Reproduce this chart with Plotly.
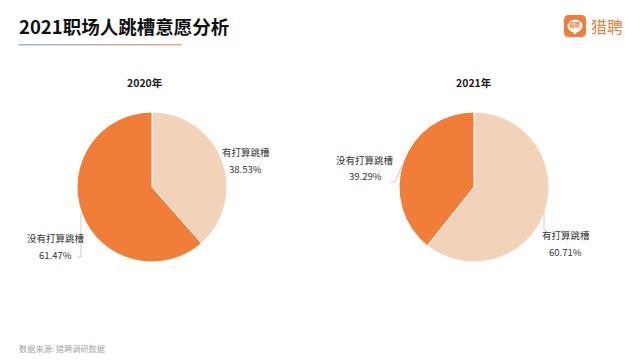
import plotly.graph_objects as go

W, H = 625, 361
FONT = "Noto Sans CJK SC"

title_text = "2021职场人跳槽意愿分析"
source_text = "数据来源: 猎聘调研数据"
brand_text = "猎聘"
labels = ["有打算跳槽", "没有打算跳槽"]
years = ["2020年", "2021年"]
values_2020 = [38.53, 61.47]
values_2021 = [60.71, 39.29]
colors = ["#F3D2BA", "#F07D38"]


def px(x):
    return x / W


def py(y):
    return 1 - y / H


def note(text, x, y, size=9.5, color="#333333", bold=False, anchor="center"):
    return dict(
        text=f"<b>{text}</b>" if bold else text,
        x=px(x), y=py(y), xref="paper", yref="paper",
        xanchor=anchor, yanchor="middle", showarrow=False,
        font=dict(family=FONT, size=size, color=color),
    )


def seg(x0, y0, x1, y1, color="#BFBFBF", width=0.8):
    return dict(
        type="line", xref="paper", yref="paper",
        x0=px(x0), y0=py(y0), x1=px(x1), y1=py(y1),
        line=dict(color=color, width=width),
    )


def rounded(x0, y0, x1, y1, r, color):
    pts = [
        f"M{px(x0 + r)},{py(y0)}", f"L{px(x1 - r)},{py(y0)}",
        f"Q{px(x1)},{py(y0)} {px(x1)},{py(y0 + r)}", f"L{px(x1)},{py(y1 - r)}",
        f"Q{px(x1)},{py(y1)} {px(x1 - r)},{py(y1)}", f"L{px(x0 + r)},{py(y1)}",
        f"Q{px(x0)},{py(y1)} {px(x0)},{py(y1 - r)}", f"L{px(x0)},{py(y0 + r)}",
        f"Q{px(x0)},{py(y0)} {px(x0 + r)},{py(y0)}", "Z",
    ]
    return dict(type="path", xref="paper", yref="paper", path=" ".join(pts),
                fillcolor=color, line=dict(width=0))


def pie(values, left):
    return go.Pie(
        labels=labels, values=values, sort=False, direction="clockwise", rotation=0,
        marker=dict(colors=colors, line=dict(color="#FFFFFF", width=1)),
        textinfo="none", showlegend=False, hoverinfo="label+percent",
        domain=dict(x=[px(left), px(left + 150)], y=[py(262), py(112)]),
    )


fig = go.Figure([pie(values_2020, 77), pie(values_2021, 399)])

# gradient underline below the title
shapes = []
n = 60
c0, c1 = (143, 179, 217), (232, 160, 112)
for i in range(n):
    t = i / (n - 1)
    rgb = tuple(round(a + (b - a) * t) for a, b in zip(c0, c1))
    x0 = 18.5 + (181.5 - 18.5) * i / n
    x1 = 18.5 + (181.5 - 18.5) * (i + 1) / n
    shapes.append(seg(x0, 44.7, x1, 44.7, color=f"rgb{rgb}", width=1.5))

# leader lines
shapes += [
    seg(81, 213, 81, 257), seg(81, 257, 78, 257),
    seg(402, 165, 395, 182), seg(395, 182, 391, 182),
    seg(544, 212, 544, 230), seg(544, 230, 546, 230),
]

# brand logo
shapes.append(rounded(564, 15, 586, 37, 5, "#F07D38"))
shapes.append(dict(type="circle", xref="paper", yref="paper",
                   x0=px(567.5), x1=px(582.5), y0=py(32.5), y1=py(19.5),
                   fillcolor="#FFFFFF", line=dict(width=0)))
shapes.append(dict(type="path", xref="paper", yref="paper",
                   path=f"M{px(572)},{py(31)} L{px(578)},{py(31)} L{px(575)},{py(34.5)} Z",
                   fillcolor="#FFFFFF", line=dict(width=0)))

annotations = [
    note(title_text, 17, 26.5, size=18.5, color="#111111", bold=True, anchor="left"),
    note(years[0], 145, 82, size=10.5, color="#222222", bold=True),
    note(years[1], 473.5, 82, size=10.5, color="#222222", bold=True),
    note(labels[0], 245.5, 152),
    note(f"{values_2020[0]:.2f}%", 245.5, 168.5),
    note(labels[1], 55.5, 238),
    note(f"{values_2020[1]:.2f}%", 55.5, 254.5),
    note(labels[1], 365, 159.5),
    note(f"{values_2021[1]:.2f}%", 365, 176),
    note(labels[0], 565.5, 235),
    note(f"{values_2021[0]:.2f}%", 565.5, 251.5),
    note(source_text, 17, 348, size=8.2, color="#A6A6A6", anchor="left"),
    note(brand_text, 607, 26, size=16, color="#F07D38"),
    note(brand_text, 575, 25.5, size=5.5, color="#F07D38", bold=True),
]

fig.update_layout(
    width=W, height=H, autosize=False,
    margin=dict(l=0, r=0, t=0, b=0),
    paper_bgcolor="#FFFFFF", plot_bgcolor="#FFFFFF",
    font=dict(family=FONT),
    shapes=shapes, annotations=annotations,
)
fig.write_html(
    "out.html",
    config=dict(displayModeBar=False),
    post_script="document.documentElement.style.margin='0';document.body.style.margin='0';document.body.style.overflow='hidden';",
)
